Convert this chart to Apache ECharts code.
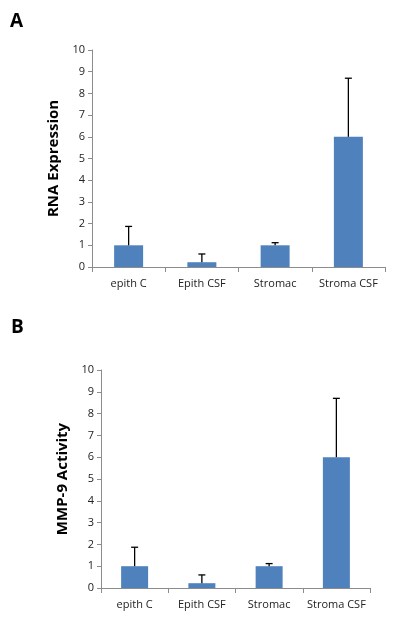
<!DOCTYPE html>
<html>
<head>
<meta charset="utf-8">
<script src="https://cdn.jsdelivr.net/npm/echarts@6/dist/echarts.min.js"></script>
<style>
  html, body { margin: 0; padding: 0; background: #fff; }
  #chart { width: 395px; height: 622px; }
</style>
</head>
<body>
<div id="chart"></div>
<script>
// data
var categories = ['epith C', 'Epith CSF', 'Stromac', 'Stroma CSF'];
var rnaValues = [1, 0.22, 1, 6];
var rnaErrTop = [1.87, 0.6, 1.12, 8.7];
var mmpValues = [1, 0.22, 1, 6];
var mmpErrTop = [1.87, 0.6, 1.12, 8.7];
var yTicks = [0, 10, 1]; // min, max, interval

var barColor = '#4F81BD';
var axisColor = '#8c8c8c';
var font = 'Open Sans, Noto Sans, sans-serif';

function errData(vals, tops) {
  var out = [];
  for (var i = 0; i < vals.length; i++) {
    out.push([i, vals[i], tops[i]]);
  }
  return out;
}

function renderErr(params, api) {
  var lo = api.coord([api.value(0), api.value(1)]);
  var hi = api.coord([api.value(0), api.value(2)]);
  var half = 3.5;
  return {
    type: 'group',
    children: [
      { type: 'line', shape: { x1: lo[0], y1: lo[1], x2: hi[0], y2: hi[1] },
        style: { stroke: '#000', lineWidth: 1.3 } },
      { type: 'line', shape: { x1: hi[0] - half, y1: hi[1], x2: hi[0] + half, y2: hi[1] },
        style: { stroke: '#000', lineWidth: 1.3 } }
    ]
  };
}

function xAxisOf(idx) {
  return {
    type: 'category', gridIndex: idx, data: categories,
    axisLine: { lineStyle: { color: axisColor, width: 1 } },
    axisTick: { show: true, alignWithLabel: false, length: 5, lineStyle: { color: axisColor } },
    axisLabel: { interval: 0, color: '#222', fontSize: 11, fontFamily: font, margin: 11 },
    splitLine: { show: false }
  };
}

function yAxisOf(idx, name) {
  return {
    type: 'value', gridIndex: idx, min: yTicks[0], max: yTicks[1], interval: yTicks[2],
    name: name, nameLocation: 'middle', nameGap: 24, nameRotate: 90,
    nameTextStyle: { color: '#000', fontSize: 15, fontWeight: 'bold', fontFamily: font },
    axisLine: { show: true, lineStyle: { color: axisColor, width: 1 } },
    axisTick: { show: true, length: 4, lineStyle: { color: axisColor } },
    axisLabel: { color: '#222', fontSize: 11, fontFamily: font, margin: 7 },
    splitLine: { show: false }
  };
}

var chart = echarts.init(document.getElementById('chart'));
chart.setOption({
  animation: false,
  backgroundColor: '#fff',
  title: [
    { text: 'A', left: 5, top: 7, textStyle: { fontSize: 19, fontWeight: 'bold', color: '#000', fontFamily: font } },
    { text: 'B', left: 6, top: 313, textStyle: { fontSize: 19, fontWeight: 'bold', color: '#000', fontFamily: font } }
  ],
  grid: [
    { left: 92, top: 50, width: 293, height: 217 },
    { left: 101, top: 370, width: 269, height: 218 }
  ],
  xAxis: [xAxisOf(0), xAxisOf(1)],
  yAxis: [yAxisOf(0, 'RNA Expression'), yAxisOf(1, 'MMP-9 Activity')],
  series: [
    { type: 'bar', xAxisIndex: 0, yAxisIndex: 0, data: rnaValues, barWidth: 29,
      itemStyle: { color: barColor }, z: 2 },
    { type: 'custom', xAxisIndex: 0, yAxisIndex: 0, data: errData(rnaValues, rnaErrTop),
      renderItem: renderErr, z: 3 },
    { type: 'bar', xAxisIndex: 1, yAxisIndex: 1, data: mmpValues, barWidth: 27,
      itemStyle: { color: barColor }, z: 2 },
    { type: 'custom', xAxisIndex: 1, yAxisIndex: 1, data: errData(mmpValues, mmpErrTop),
      renderItem: renderErr, z: 3 }
  ]
});
</script>
</body>
</html>
